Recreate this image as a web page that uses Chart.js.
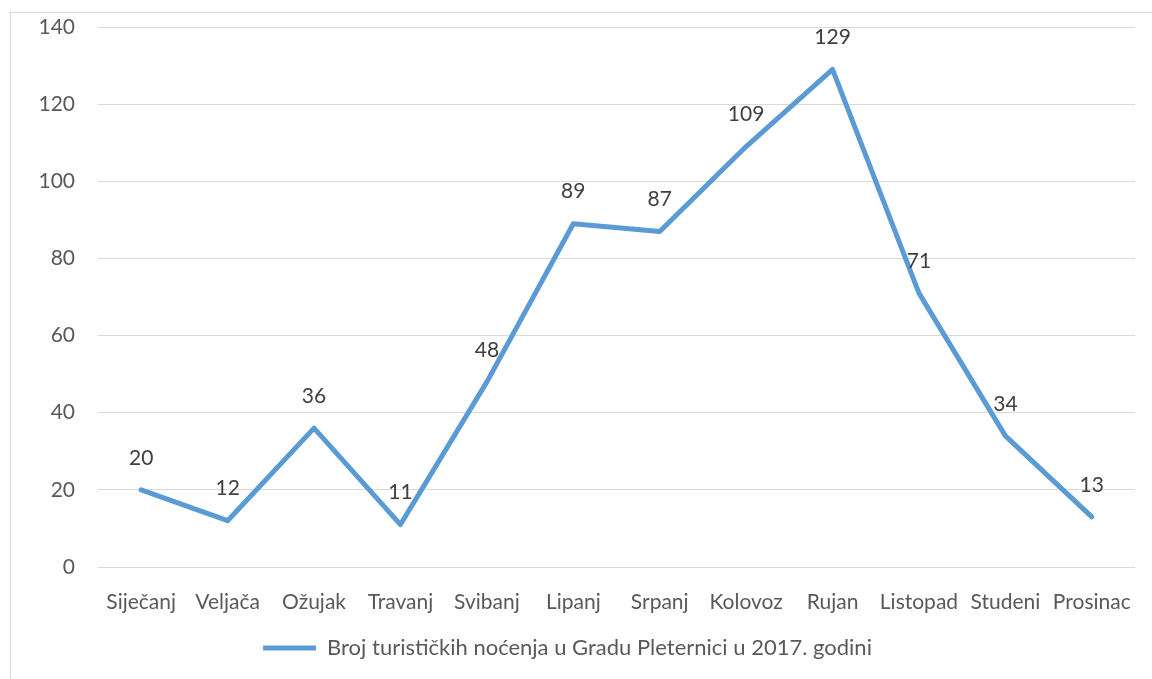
<!DOCTYPE html>
<html>
<head>
<meta charset="utf-8">
<script src="https://cdn.jsdelivr.net/npm/chart.js@4"></script>
<style>
    body { margin: 0; background: #fff; overflow: hidden; }
    #frame { position: absolute; left: 10px; top: 12px; width: 1300px; height: 800px; border: 1px solid #d9d9d9; }
    #wrap { position: absolute; left: 0; top: 0; width: 1152px; height: 679px; }
</style>
</head>
<body>
<div id="frame"></div>
<div id="wrap"><canvas id="chart"></canvas></div>
<script>
// Broj turističkih noćenja, Pleternica 2017
const months = ['Siječanj', 'Veljača', 'Ožujak', 'Travanj', 'Svibanj', 'Lipanj', 'Srpanj', 'Kolovoz', 'Rujan', 'Listopad', 'Studeni', 'Prosinac'];
const nights = [20, 12, 36, 11, 48, 89, 87, 109, 129, 71, 34, 13];
const seriesName = 'Broj turističkih noćenja u Gradu Pleternici u 2017. godini';

const FONT = 'Lato, "Open Sans", sans-serif';

// value labels above each point
const valueLabels = {
    id: 'valueLabels',
    afterDatasetsDraw(chart) {
        const ctx = chart.ctx;
        const meta = chart.getDatasetMeta(0);
        ctx.save();
        ctx.font = '21px ' + FONT;
        ctx.fillStyle = '#404040';
        ctx.textAlign = 'center';
        ctx.textBaseline = 'middle';
        meta.data.forEach((pt, i) => {
            ctx.fillText(String(nights[i]), pt.x, pt.y - 32);
        });
        ctx.restore();
    }
};

new Chart(document.getElementById('chart'), {
    type: 'line',
    data: {
        labels: months,
        datasets: [{
            label: seriesName,
            data: nights,
            borderColor: '#5b9bd5',
            backgroundColor: '#5b9bd5',
            borderWidth: 5,
            borderCapStyle: 'round',
            borderJoinStyle: 'round',
            pointRadius: 0,
            tension: 0
        }]
    },
    options: {
        responsive: true,
        maintainAspectRatio: false,
        animation: false,
        layout: { padding: { top: 27, right: 17, left: 0, bottom: 10 } },
        plugins: {
            tooltip: { enabled: false },
            legend: {
                position: 'bottom',
                labels: {
                    usePointStyle: true,
                    pointStyle: 'line',
                    pointStyleWidth: 53,
                    color: '#595959',
                    font: { family: FONT, size: 22 },
                    padding: 20
                }
            }
        },
        scales: {
            x: {
                offset: true,
                grid: { display: false },
                border: { display: false },
                ticks: { color: '#595959', font: { family: FONT, size: 21 }, padding: 15, maxRotation: 0 },
                afterFit(scale) { scale.height = 50; scale.paddingLeft = 0; scale.paddingRight = 0; }
            },
            y: {
                min: 0,
                max: 140,
                ticks: { stepSize: 20, color: '#595959', font: { family: FONT, size: 21 }, padding: 23 },
                grid: { color: '#d9d9d9', lineWidth: 1, drawTicks: false },
                border: { display: false },
                afterFit(scale) { scale.width = 98; scale.paddingTop = 0; scale.paddingBottom = 0; }
            }
        }
    },
    plugins: [valueLabels]
});
</script>
</body>
</html>
